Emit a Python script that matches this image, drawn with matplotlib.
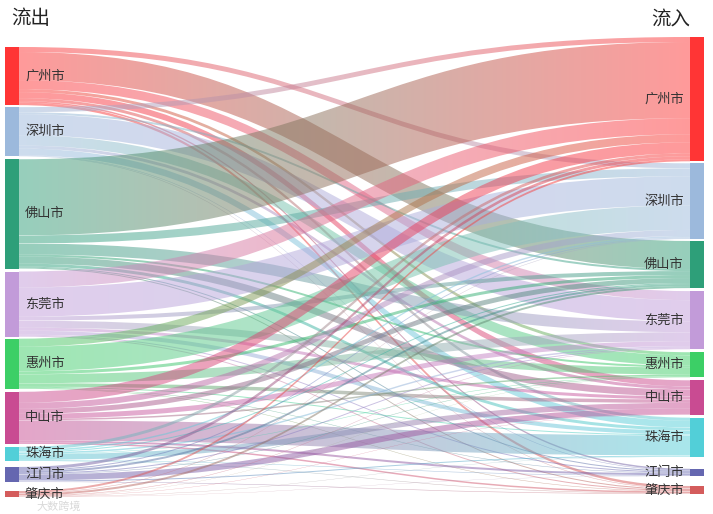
import numpy as np
import matplotlib
matplotlib.use('Agg')
import matplotlib.pyplot as plt
from matplotlib.path import Path
from matplotlib.patches import PathPatch, Rectangle
from matplotlib.colors import to_rgb

plt.rcParams['font.family'] = ['Noto Sans CJK SC', 'DejaVu Sans']

# ---------------- data ----------------
cities = ['广州市', '深圳市', '佛山市', '东莞市', '惠州市', '中山市', '珠海市', '江门市', '肇庆市']
# rows = 流出 (source), columns = 流入 (target), same city order
flow_gz = [0, 5, 28, 9, 3, 6, 3, 1.5, 2.5]
flow_sz = [5, 0, 2, 21, 10.3, 3, 6.7, 0.5, 0.5]
flow_fs = [76, 8, 0, 11, 2, 7, 3, 1, 1]
flow_dg = [16, 29, 4, 0, 7, 3, 4, 1, 1]
flow_hz = [8, 24.5, 3, 9, 0, 3.5, 1, 0.5, 0.5]
flow_zs = [11, 6, 5, 5, 1.5, 0, 20, 2, 1.5]
flow_zh = [3, 1.5, 1, 1.5, 0.5, 5.5, 0, 0.5, 0.5]
flow_jm = [3, 1, 2, 1, 0.5, 6, 1, 0, 0.5]
flow_zq = [2, 0.5, 2, 0.5, 0.2, 0.3, 0.3, 0.2, 0]
flows = np.array([flow_gz, flow_sz, flow_fs, flow_dg, flow_hz,
                  flow_zs, flow_zh, flow_jm, flow_zq], dtype=float)

node_colors = ['#ff3535', '#9cb9dc', '#2e9f79', '#c29bd9', '#3ccf66',
               '#c94b92', '#52cfd8', '#6567b0', '#d45c5c']

# ---------------- layout (pixel space) ----------------
W, H = 713, 514
fig = plt.figure(figsize=(W / 100, H / 100), dpi=100)
ax = fig.add_axes([0, 0, 1, 1])
ax.set_xlim(0, W)
ax.set_ylim(H, 0)
ax.axis('off')

left_x0, left_x1 = 5, 19
right_x0, right_x1 = 690, 704
left_top, left_bottom = 47, 497
left_gaps = [2, 3, 3, 2, 3, 3, 6, 9]
right_top = 37
right_gaps = [2, 2, 3, 3, 3, 3, 12, 10]

out_tot = flows.sum(axis=1)
in_tot = flows.sum(axis=0)
ky = (left_bottom - left_top - sum(left_gaps)) / out_tot.sum()

left_y = []
y = left_top
for i in range(len(cities)):
    left_y.append(y)
    y += out_tot[i] * ky + (left_gaps[i] if i < len(left_gaps) else 0)
right_y = []
y = right_top
for j in range(len(cities)):
    right_y.append(y)
    y += in_tot[j] * ky + (right_gaps[j] if j < len(right_gaps) else 0)

# link offsets (out edges sorted by target y, in edges sorted by source y)
src_off = {}
for i in range(len(cities)):
    y = left_y[i]
    for j in np.argsort(right_y):
        if flows[i, j] > 0:
            src_off[(i, j)] = y
            y += flows[i, j] * ky
tgt_off = {}
for j in range(len(cities)):
    y = right_y[j]
    for i in np.argsort(left_y):
        if flows[i, j] > 0:
            tgt_off[(i, j)] = y
            y += flows[i, j] * ky

# ---------------- draw links ----------------
xa, xb = left_x1, right_x0
xm = (xa + xb) / 2
grad = np.linspace(0, 1, 256)
for i in range(len(cities)):
    for j in range(len(cities)):
        v = flows[i, j]
        if v <= 0:
            continue
        h = v * ky
        ys, yt = src_off[(i, j)], tgt_off[(i, j)]
        verts = [(xa, ys), (xm, ys), (xm, yt), (xb, yt),
                 (xb, yt + h), (xm, yt + h), (xm, ys + h), (xa, ys + h), (xa, ys)]
        codes = [Path.MOVETO, Path.CURVE4, Path.CURVE4, Path.CURVE4,
                 Path.LINETO, Path.CURVE4, Path.CURVE4, Path.CURVE4, Path.CLOSEPOLY]
        patch = PathPatch(Path(verts, codes), facecolor='none', edgecolor='none')
        ax.add_patch(patch)
        c0 = np.array(to_rgb(node_colors[i]))
        c1 = np.array(to_rgb(node_colors[j]))
        img = np.zeros((1, 256, 4))
        img[0, :, :3] = c0[None, :] * (1 - grad[:, None]) + c1[None, :] * grad[:, None]
        img[0, :, 3] = 0.5
        ymin, ymax = min(ys, yt), max(ys, yt) + h
        im = ax.imshow(img, extent=(xa, xb, ymax, ymin), aspect='auto',
                       interpolation='bilinear', zorder=1)
        im.set_clip_path(patch)

# ---------------- draw nodes ----------------
for i, c in enumerate(cities):
    hl = out_tot[i] * ky
    ax.add_patch(Rectangle((left_x0, left_y[i]), left_x1 - left_x0, hl,
                           facecolor=node_colors[i], edgecolor='none', zorder=3))
    ax.text(25, left_y[i] + hl / 2, c, ha='left', va='center',
            fontsize=9.5, color='#333333', zorder=4)
    hr = in_tot[i] * ky
    ax.add_patch(Rectangle((right_x0, right_y[i]), right_x1 - right_x0, hr,
                           facecolor=node_colors[i], edgecolor='none', zorder=3))
    ax.text(684, right_y[i] + hr / 2, c, ha='right', va='center',
            fontsize=9.5, color='#333333', zorder=4)

ax.text(11, 19, '流出', ha='left', va='center', fontsize=14, color='#222222')
ax.text(690, 19, '流入', ha='right', va='center', fontsize=14, color='#222222')
ax.text(36, 507, '大数跨境', ha='left', va='center', fontsize=8,
        color='#d0d0d0', alpha=0.8, zorder=5)

fig.savefig('out.png', dpi=100)
